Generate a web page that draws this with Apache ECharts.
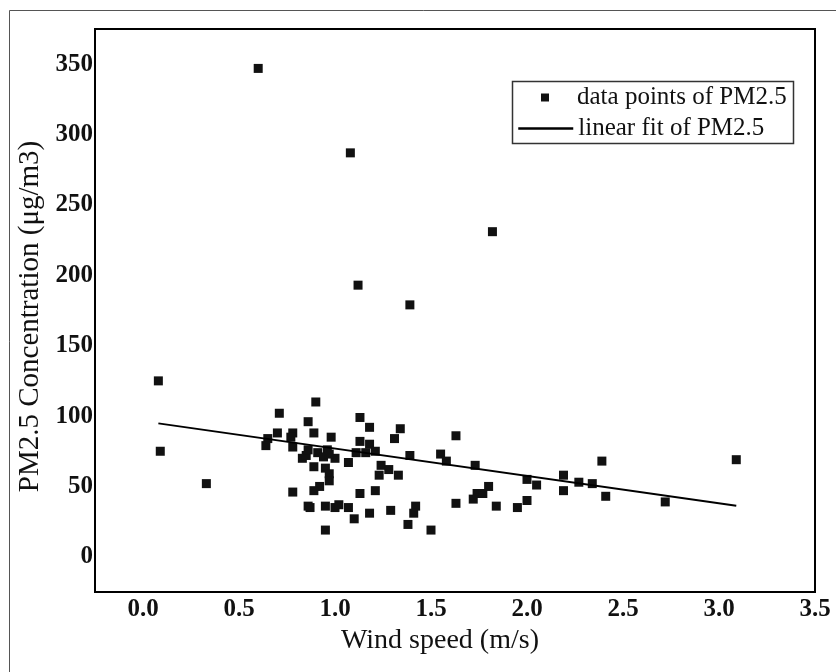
<!DOCTYPE html>
<html>
<head>
<meta charset="utf-8">
<script src="https://cdn.jsdelivr.net/npm/echarts@6/dist/echarts.min.js"></script>
<style>
  html, body { margin: 0; padding: 0; background: #fff; }
  #chart { width: 836px; height: 672px; }
</style>
</head>
<body>
<div id="chart"></div>
<script>
// wind speed (m/s) and PM2.5 (ug/m3)
var windSpeed = [
  0.60, 1.08, 1.12, 1.39, 1.82, 0.08,
  0.09, 0.33,
  0.71, 0.90, 0.86, 0.70, 0.65, 0.64, 0.78, 0.77, 0.78, 0.83, 0.85, 0.86,
  0.89, 0.98, 0.96, 0.91, 0.94, 1.00, 0.97, 0.89, 0.95, 0.97, 0.97, 0.92,
  0.89, 0.78, 0.86, 0.87, 0.95, 1.00, 1.02, 1.07, 1.10, 0.95, 1.07, 1.11,
  1.13, 1.13, 1.18, 1.18, 1.16, 1.21, 1.24, 1.28, 1.23, 1.33, 1.21, 1.13,
  1.18, 1.29, 1.31, 1.34, 1.39, 1.42, 1.41, 1.38, 1.50, 1.55, 1.58, 1.63,
  1.63, 1.73, 1.72, 1.74, 1.77, 1.80, 1.84, 1.95, 2.00, 2.00, 2.05, 2.19,
  2.19, 2.27, 2.34, 2.39, 2.41, 2.72, 3.09
];
var pm25 = [
  347, 287, 193, 179, 231, 125,
  75, 52,
  102, 110, 96, 88, 84, 79, 88, 85, 78, 70, 72, 76,
  88, 85, 76, 74, 71, 70, 73, 64, 63, 59, 54, 50,
  47, 46, 36, 35, 36, 35, 37, 35, 27, 19, 67, 74,
  82, 99, 92, 80, 74, 75, 65, 62, 58, 58, 47, 45,
  31, 33, 84, 91, 72, 36, 31, 23, 19, 73, 68, 86,
  38, 65, 41, 45, 45, 50, 36, 35, 40, 55, 51, 58,
  47, 53, 52, 68, 43, 39, 69
];

// end points of the fitted line
var fitX = [0.08, 3.09];
var fitY = [94.8, 36.3];

var xTicks = [0, 0.5, 1.0, 1.5, 2.0, 2.5, 3.0, 3.5];
var yTicks = [0, 50, 100, 150, 200, 250, 300, 350];

var serif = '"Liberation Serif", "DejaVu Serif", serif';

var chart = echarts.init(document.getElementById('chart'));

var option = {
  backgroundColor: '#fff',
  animation: false,
  grid: {
    left: 95, top: 29, right: 21, bottom: 80,
    show: true, borderColor: '#000', borderWidth: 2
  },
  xAxis: {
    type: 'value',
    min: -0.25,
    max: 3.5,
    name: 'Wind speed (m/s)',
    nameLocation: 'middle',
    nameGap: 33,
    nameTextStyle: { fontFamily: serif, fontSize: 28, color: '#111', padding: [0, 30, 0, 0] },
    axisLine: { show: false },
    axisTick: { show: false },
    splitLine: { show: false },
    axisLabel: {
      customValues: xTicks,
      margin: 5,
      fontFamily: serif, fontSize: 25, fontWeight: 'bold', color: '#111',
      formatter: function (v) { return v.toFixed(1); }
    }
  },
  yAxis: {
    type: 'value',
    min: -25,
    max: 375,
    name: 'PM2.5 Concentration (μg/m3)',
    nameLocation: 'middle',
    nameGap: 35,
    nameTextStyle: { fontFamily: serif, fontSize: 29, color: '#111', padding: [0, 12, 0, 0] },
    axisLine: { show: false },
    axisTick: { show: false },
    splitLine: { show: false },
    axisLabel: {
      customValues: yTicks,
      margin: 2,
      fontFamily: serif, fontSize: 25, fontWeight: 'bold', color: '#111'
    }
  },
  legend: [
    {
      data: [{ name: 'data points of PM2.5', icon: 'rect' }],
      left: 541, top: 85, padding: 0,
      itemWidth: 8, itemHeight: 8,
      textStyle: { fontFamily: serif, fontSize: 25, lineHeight: 24, color: '#111', padding: [0, 0, 0, 23] }
    },
    {
      data: ['linear fit of PM2.5'],
      left: 517, top: 116, padding: 0,
      itemWidth: 55, itemHeight: 14,
      itemStyle: { opacity: 0 },
      lineStyle: { color: '#000', width: 2.5 },
      textStyle: { fontFamily: serif, fontSize: 25, lineHeight: 24, color: '#111' }
    }
  ],
  graphic: [
    {
      type: 'rect',
      shape: { x: 9.5, y: 10.5, width: 900, height: 700 },
      style: { fill: 'none', stroke: '#555', lineWidth: 1 },
      silent: true
    },
    {
      type: 'rect',
      shape: { x: 512.5, y: 81.5, width: 281, height: 62 },
      style: { fill: 'none', stroke: '#333', lineWidth: 1.5 },
      silent: true
    }
  ],
  series: [
    {
      name: 'data points of PM2.5',
      type: 'scatter',
      symbol: 'rect',
      symbolSize: 9,
      itemStyle: { color: '#111', opacity: 1 },
      data: windSpeed.map(function (x, i) { return [x, pm25[i]]; })
    },
    {
      name: 'linear fit of PM2.5',
      type: 'line',
      showSymbol: false,
      symbol: 'none',
      lineStyle: { color: '#000', width: 2 },
      itemStyle: { color: '#000' },
      data: fitX.map(function (x, i) { return [x, fitY[i]]; })
    }
  ]
};

chart.setOption(option);
</script>
</body>
</html>
